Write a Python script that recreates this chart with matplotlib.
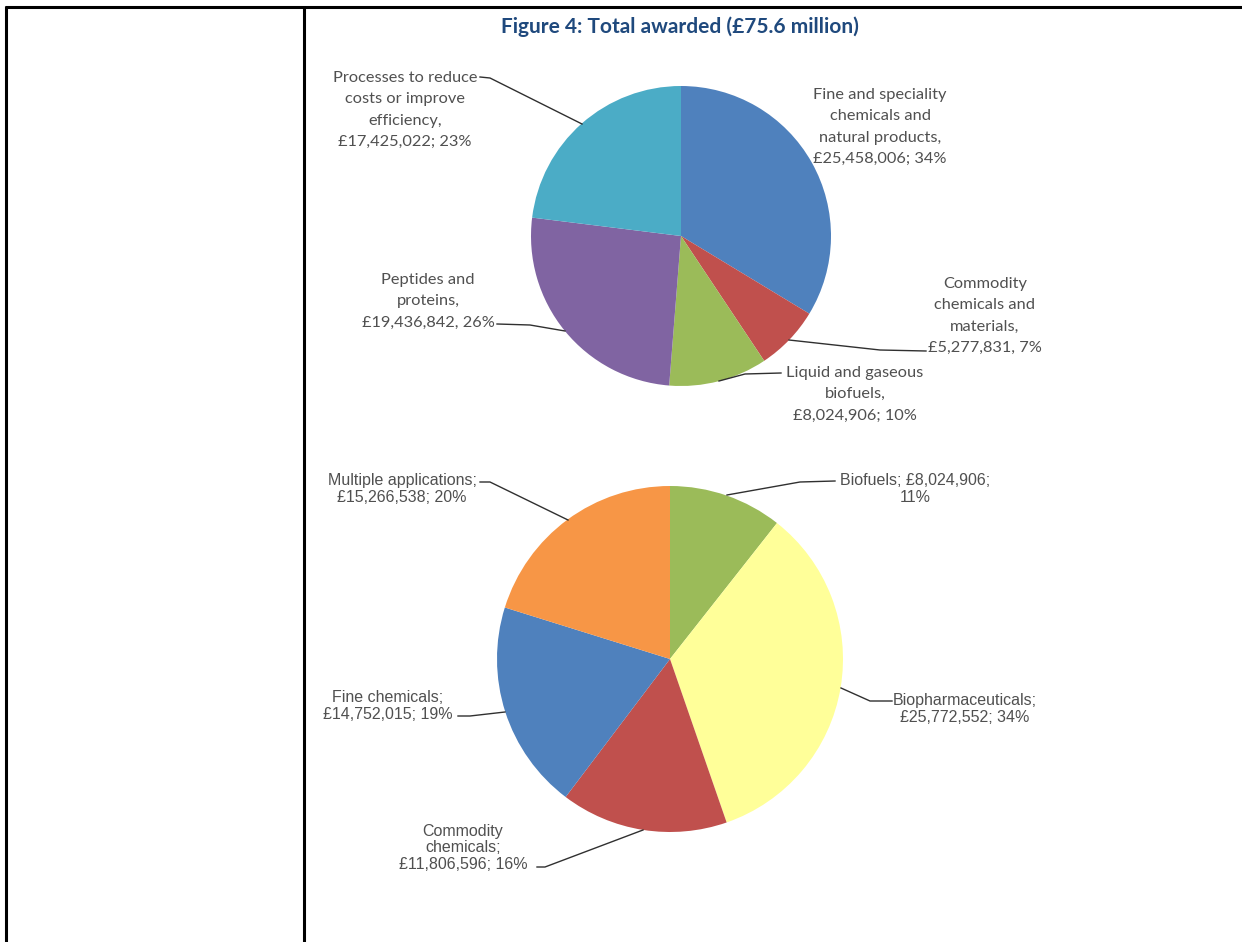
import matplotlib
matplotlib.use("Agg")
import matplotlib.pyplot as plt

W, H = 1242, 942

title = "Figure 4: Total awarded (£75.6 million)"

# top pie: by technology area
top_labels = ["Fine and speciality\nchemicals and\nnatural products,\n£25,458,006; 34%",
              "Commodity\nchemicals and\nmaterials,\n£5,277,831, 7%",
              "Liquid and gaseous\nbiofuels,\n£8,024,906; 10%",
              "Peptides and\nproteins,\n£19,436,842, 26%",
              "Processes to reduce\ncosts or improve\nefficiency,\n£17,425,022; 23%"]
top_values = [25458006, 5277831, 8024906, 19436842, 17425022]
top_colors = ["#4F81BD", "#C0504D", "#9BBB59", "#8064A2", "#4BACC6"]

# bottom pie: by application
bot_labels = ["Biofuels; £8,024,906;\n11%",
              "Biopharmaceuticals;\n£25,772,552; 34%",
              "Commodity\nchemicals;\n£11,806,596; 16%",
              "Fine chemicals;\n£14,752,015; 19%",
              "Multiple applications;\n£15,266,538; 20%"]
bot_values = [8024906, 25772552, 11806596, 14752015, 15266538]
bot_colors = ["#9BBB59", "#FFFF99", "#C0504D", "#4F81BD", "#F79646"]

fig = plt.figure(figsize=(W / 100, H / 100), dpi=100)
ax = fig.add_axes([0, 0, 1, 1])


def Y(y):
    return H - y


# table borders
ax.plot([6, 6], [Y(6), Y(942)], color="black", lw=2.2, solid_capstyle="butt")
ax.plot([304, 304], [Y(6), Y(942)], color="black", lw=2.2, solid_capstyle="butt")
ax.plot([5, 1242], [Y(6.5), Y(6.5)], color="black", lw=2.2, solid_capstyle="butt")

ax.text(680, Y(27), title, ha="center", va="center", fontsize=15,
        fontweight="bold", color="#1F497D", family="Lato")

# pies
ax.pie(top_values, colors=top_colors, startangle=90, counterclock=False,
       center=(681, Y(236)), radius=150, wedgeprops=dict(linewidth=0))
ax.pie(bot_values, colors=bot_colors, startangle=90, counterclock=False,
       center=(670, Y(659)), radius=173, wedgeprops=dict(linewidth=0))
ax.set_xlim(0, W)
ax.set_ylim(0, H)
ax.set_aspect("equal")
ax.axis("off")

grey = "#505050"
f1 = dict(fontsize=11.8, color=grey, family="Lato", ha="center", va="center",
          linespacing=1.68)
f2 = dict(fontsize=11.5, color=grey, family="Liberation Sans", ha="center",
          va="center", linespacing=1.15)
lk = dict(color="#303030", lw=1.0)

# top pie labels
ax.text(880, Y(127), top_labels[0], **f1)
ax.text(985, Y(316), top_labels[1], **f1)
ax.plot([926, 880, 789], [Y(351), Y(350), Y(340)], **lk)
ax.text(855, Y(394), top_labels[2], **f1)
ax.plot([781, 745, 719], [Y(373), Y(374), Y(381)], **lk)
ax.text(428, Y(301), top_labels[3], **f1)
ax.plot([497, 530, 565], [Y(324), Y(325), Y(331)], **lk)
ax.text(405, Y(110), top_labels[4], **f1)
ax.plot([480, 490, 582], [Y(77), Y(78), Y(124)], **lk)

# bottom pie labels
ax.text(915, Y(489), bot_labels[0], **f2)
ax.plot([835, 800, 727], [Y(481), Y(482), Y(495)], **lk)
ax.text(965, Y(709), bot_labels[1], **f2)
ax.plot([892, 870, 841], [Y(701), Y(701), Y(688)], **lk)
ax.text(463, Y(848), bot_labels[2], **f2)
ax.plot([537, 545, 643], [Y(867), Y(867), Y(830)], **lk)
ax.text(388, Y(706), bot_labels[3], **f2)
ax.plot([458, 470, 505], [Y(716), Y(716), Y(712)], **lk)
ax.text(402, Y(489), bot_labels[4], **f2)
ax.plot([480, 490, 568], [Y(482), Y(482), Y(520)], **lk)

fig.savefig("out.png", dpi=100)
